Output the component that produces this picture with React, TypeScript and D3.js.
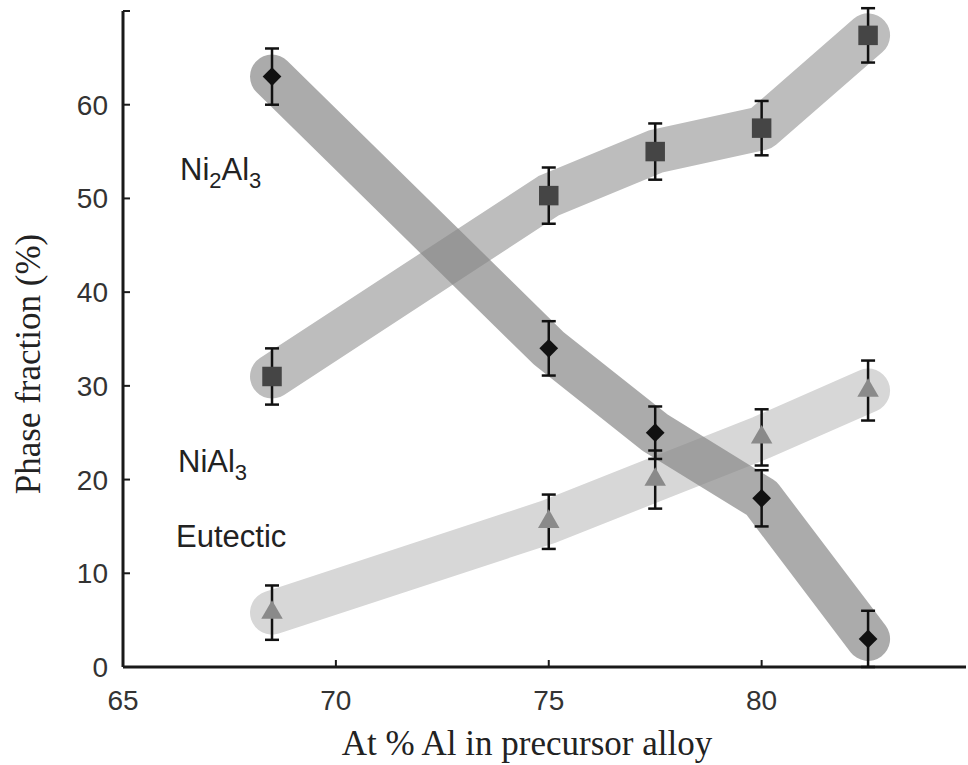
import React, { useEffect, useRef } from 'react';
import * as d3 from 'd3';

// at % Al in precursor alloy
const alloyAl = [68.5, 75, 77.5, 80, 82.5];
// phase fractions (%)
const ni2al3 = [63, 34, 25, 18, 3];
const nial3 = [31, 50.3, 55, 57.5, 67.4];
const eutectic = [5.8, 15.5, 20, 24.5, 29.5];
const ni2al3Err = [3, 2.9, 2.8, 3, 3];
const nial3Err = [3, 3, 3, 2.9, 2.9];
const eutecticErr = [2.9, 2.9, 3.1, 3, 3.2];

const xTicks = [65, 70, 75, 80];
const yTicks = [0, 10, 20, 30, 40, 50, 60, 70];
const yTickLabels = ['0', '10', '20', '30', '40', '50', '60', ''];

const W = 968;
const H = 765;

function App() {
  const ref = useRef<SVGSVGElement>(null);

  useEffect(() => {
    const svg = d3.select(ref.current);
    svg.selectAll('*').remove();

    const xScale = d3.scaleLinear().domain([65, 84.8]).range([123, 966]);
    const yScale = d3.scaleLinear().domain([0, 70]).range([667, 11]);

    const line = d3
      .line<number>()
      .x((d, i) => xScale(alloyAl[i]))
      .y(d => yScale(d));

    const band = (vals: number[], color: string, opacity: number) => {
      svg
        .append('path')
        .datum(vals)
        .attr('fill', 'none')
        .attr('stroke', color)
        .attr('stroke-opacity', opacity)
        .attr('stroke-width', 44)
        .attr('stroke-linecap', 'round')
        .attr('stroke-linejoin', 'round')
        .attr('d', line);
    };
    // bands
    band(eutectic, '#d7d7d7', 1);
    band(nial3, '#bdbdbd', 1);
    band(ni2al3, '#888888', 0.7);

    // axes
    const axisColor = '#1a1a1a';
    svg.append('line')
      .attr('x1', xScale(65)).attr('x2', xScale(84.8))
      .attr('y1', yScale(0)).attr('y2', yScale(0))
      .attr('stroke', axisColor).attr('stroke-width', 3);
    svg.append('line')
      .attr('x1', xScale(65)).attr('x2', xScale(65))
      .attr('y1', yScale(0)).attr('y2', yScale(70))
      .attr('stroke', axisColor).attr('stroke-width', 3);

    svg.selectAll('.xtick')
      .data(xTicks)
      .enter()
      .append('line')
      .attr('x1', d => xScale(d)).attr('x2', d => xScale(d))
      .attr('y1', yScale(0)).attr('y2', yScale(0) - 7)
      .attr('stroke', axisColor).attr('stroke-width', 2);
    svg.selectAll('.ytick')
      .data(yTicks)
      .enter()
      .append('line')
      .attr('x1', xScale(65)).attr('x2', xScale(65) + 7)
      .attr('y1', d => yScale(d)).attr('y2', d => yScale(d))
      .attr('stroke', axisColor).attr('stroke-width', 2);

    const sans = '"Liberation Sans", Arial, sans-serif';
    const serif = '"Liberation Serif", "Times New Roman", serif';

    svg.selectAll('.xlabel')
      .data(xTicks)
      .enter()
      .append('text')
      .attr('x', d => xScale(d))
      .attr('y', 710)
      .attr('text-anchor', 'middle')
      .style('font-family', sans)
      .style('font-size', '28px')
      .style('fill', '#333')
      .text(d => d);
    svg.selectAll('.ylabel')
      .data(yTicks)
      .enter()
      .append('text')
      .attr('x', 108)
      .attr('y', d => yScale(d) + 10)
      .attr('text-anchor', 'end')
      .style('font-family', sans)
      .style('font-size', '28px')
      .style('fill', '#333')
      .text((d, i) => yTickLabels[i]);

    // axis titles
    svg.append('text')
      .attr('x', 527).attr('y', 755)
      .attr('text-anchor', 'middle')
      .style('font-family', serif)
      .style('font-size', '35px')
      .style('fill', '#222')
      .text('At % Al in precursor alloy');
    svg.append('text')
      .attr('transform', 'translate(40,364) rotate(-90)')
      .attr('text-anchor', 'middle')
      .style('font-family', serif)
      .style('font-size', '35px')
      .style('fill', '#222')
      .text('Phase fraction (%)');

    // error bars + markers
    const errBars = (vals: number[], errs: number[]) => {
      const g = svg.append('g').attr('stroke', '#111').attr('stroke-width', 2.5);
      vals.forEach((v, i) => {
        const x = xScale(alloyAl[i]);
        const y0 = yScale(v - errs[i]);
        const y1 = yScale(v + errs[i]);
        g.append('line').attr('x1', x).attr('x2', x).attr('y1', y0).attr('y2', y1);
        g.append('line').attr('x1', x - 7).attr('x2', x + 7).attr('y1', y0).attr('y2', y0);
        g.append('line').attr('x1', x - 7).attr('x2', x + 7).attr('y1', y1).attr('y2', y1);
      });
    };
    errBars(eutectic, eutecticErr);
    errBars(nial3, nial3Err);
    errBars(ni2al3, ni2al3Err);

    const sym = (type: d3.SymbolType, size: number, vals: number[], color: string, rot = 0) => {
      svg.selectAll(null)
        .data(vals)
        .enter()
        .append('path')
        .attr('d', d3.symbol().type(type).size(size)())
        .attr('transform', (d, i) => `translate(${xScale(alloyAl[i])},${yScale(d)}) rotate(${rot})`)
        .attr('fill', color);
    };
    sym(d3.symbolTriangle, 200, eutectic, '#8a8a8a');
    sym(d3.symbolSquare, 380, nial3, '#454545');
    sym(d3.symbolSquare, 175, ni2al3, '#111', 45);

    // phase labels
    const lab = (x: number, y: number, parts: [string, boolean][]) => {
      const t = svg.append('text')
        .attr('x', x).attr('y', y)
        .style('font-family', sans)
        .style('font-size', '31px')
        .style('fill', '#222');
      parts.forEach(([s, sub], i) => {
        const prevSub = i > 0 ? parts[i - 1][1] : false;
        const sp = t.append('tspan').text(s);
        sp.attr('dy', sub && !prevSub ? 8 : !sub && prevSub ? -8 : 0);
        if (sub) sp.style('font-size', '22px');
      });
    };
    lab(180, 180, [['Ni', false], ['2', true], ['Al', false], ['3', true]]);
    lab(178, 472, [['NiAl', false], ['3', true]]);
    lab(176, 547, [['Eutectic', false]]);
  }, []);

  return (
    <div>
      <svg ref={ref} width={W} height={H} style={{ position: 'absolute', left: 0, top: 0 }} />
    </div>
  );
}

export default App;
